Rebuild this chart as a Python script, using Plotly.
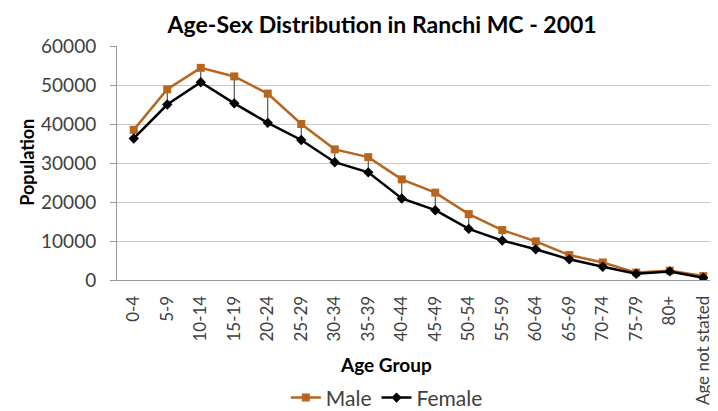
import plotly.graph_objects as go

categories = ["0-4", "5-9", "10-14", "15-19", "20-24", "25-29", "30-34", "35-39",
              "40-44", "45-49", "50-54", "55-59", "60-64", "65-69", "70-74", "75-79",
              "80+", "Age not stated"]
male = [38500, 48900, 54400, 52200, 47800, 40000, 33500, 31500, 25800, 22400,
        16900, 12800, 9900, 6400, 4500, 1900, 2400, 1000]
female = [36300, 45000, 50700, 45300, 40300, 35900, 30200, 27600, 20900, 17900,
          13100, 10100, 7900, 5300, 3400, 1600, 2200, 600]
y_ticks = [0, 10000, 20000, 30000, 40000, 50000, 60000]

FONT = "Lato"
BROWN = "#B8661E"

# high-low lines connecting the two series
hx, hy = [], []
for c, m, f in zip(categories, male, female):
    hx += [c, c, None]
    hy += [m, f, None]

fig = go.Figure()
fig.add_trace(go.Scatter(x=hx, y=hy, mode="lines", line=dict(color="#333333", width=1),
                         showlegend=False, hoverinfo="skip"))
fig.add_trace(go.Scatter(x=categories, y=male, name="Male", mode="lines+markers",
                         line=dict(color=BROWN, width=2.5),
                         marker=dict(symbol="square", size=8, color=BROWN)))
fig.add_trace(go.Scatter(x=categories, y=female, name="Female", mode="lines+markers",
                         line=dict(color="black", width=2.5),
                         marker=dict(symbol="diamond", size=8, color="black")))

fig.update_layout(
    width=710, height=403,
    margin=dict(l=109, r=0, t=38, b=131, autoexpand=False),
    paper_bgcolor="white", plot_bgcolor="white",
    font=dict(family=FONT, size=18, color="#404040"),
    title=dict(text="<b>Age-Sex Distribution in Ranchi MC - 2001</b>",
               x=0.527, xanchor="center", y=0.958, yanchor="middle",
               font=dict(family=FONT, size=23, color="black")),
    showlegend=True,
    legend=dict(orientation="h", x=0.449, xanchor="center", y=-0.504, yanchor="middle",
                font=dict(family=FONT, size=21, color="#404040"), bgcolor="rgba(0,0,0,0)"),
    xaxis=dict(type="category", categoryorder="array", categoryarray=categories,
               range=[-0.5, 17.44], tickangle=-90, showgrid=False, automargin=False,
               showline=True, linecolor="#9a9a9a", linewidth=1,
               ticks="", ticklabelstandoff=8,
               tickfont=dict(family=FONT, size=17, color="#404040")),
    yaxis=dict(range=[0, 60000], tickvals=y_ticks, ticktext=[str(v) for v in y_ticks],
               showgrid=True, gridcolor="#c8c8c8", gridwidth=1, automargin=False,
               showline=True, linecolor="#9a9a9a", linewidth=1,
               ticks="outside", ticklen=6, tickcolor="#9a9a9a", ticklabelstandoff=10,
               zeroline=False, tickfont=dict(family=FONT, size=19, color="#404040")),
    annotations=[
        dict(text="<b>Population</b>", xref="paper", yref="paper", x=-0.151, y=0.502,
             textangle=-90, showarrow=False, xanchor="center", yanchor="middle",
             font=dict(family=FONT, size=18, color="black")),
        dict(text="<b>Age Group</b>", xref="paper", yref="paper", x=0.448, y=-0.363,
             showarrow=False, xanchor="center", yanchor="middle",
             font=dict(family=FONT, size=19, color="black")),
    ],
)

fig.write_html("out.html")
